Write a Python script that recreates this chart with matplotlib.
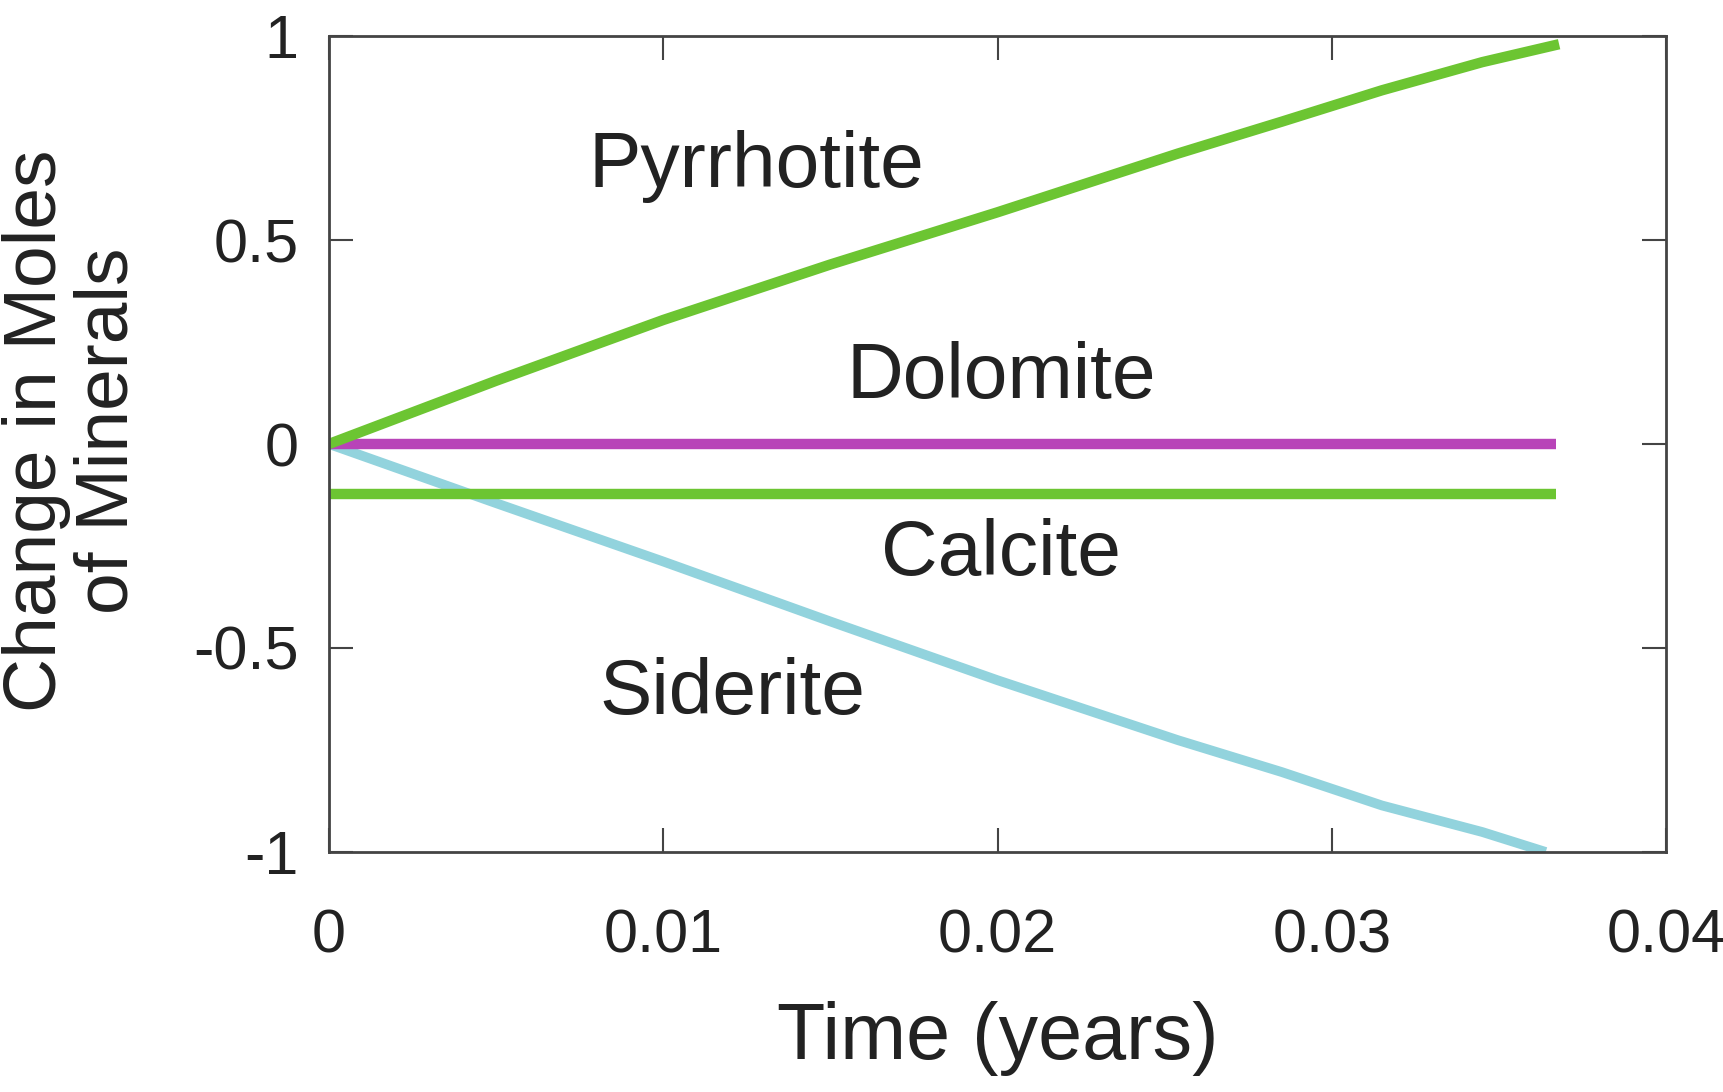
import numpy as np
import matplotlib.pyplot as plt

plt.rcParams['font.family'] = ['Liberation Sans', 'DejaVu Sans']

# values
t_pyr = [0, 0.005, 0.01, 0.015, 0.02, 0.0254, 0.0285, 0.0315, 0.0345, 0.0368]
pyrrhotite = [0, 0.155, 0.304, 0.44, 0.568, 0.712, 0.790, 0.867, 0.936, 0.98]

t_sid = [0, 0.005, 0.01, 0.015, 0.02, 0.0254, 0.0285, 0.0315, 0.0345, 0.0364]
siderite = [0, -0.145, -0.288, -0.435, -0.579, -0.726, -0.804, -0.886, -0.951, -1.0]

t_flat = [0, 0.0367]
dolomite = [0, 0]
calcite = [-0.123, -0.123]

labels = ["Pyrrhotite", "Dolomite", "Calcite", "Siderite"]
label_x = [0.0128, 0.0201, 0.0201, 0.01207]
label_y = [0.68, 0.164, -0.27, -0.611]

green = '#6cc532'
magenta = '#b844b8'
cyan = '#92d3dd'
txt = '#222222'

fig = plt.figure(figsize=(17.24, 10.92), dpi=100)
ax = fig.add_axes([0.1908, 0.2198, 0.9664 - 0.1908, 0.967 - 0.2198])

ax.plot(t_sid, siderite, color=cyan, lw=7, solid_capstyle='butt')
ax.plot(t_flat, calcite, color=green, lw=7.5, solid_capstyle='butt')
ax.plot(t_flat, dolomite, color=magenta, lw=7.5, solid_capstyle='butt')
ax.plot(t_pyr, pyrrhotite, color=green, lw=7.5, solid_capstyle='butt')

for name, x, y in zip(labels, label_x, label_y):
    ax.text(x, y, name, fontsize=56.5, color=txt, ha='center', va='center')

ax.set_xlim(0, 0.04)
ax.set_ylim(-1, 1)
ax.set_xticks([0, 0.01, 0.02, 0.03, 0.04])
ax.set_xticklabels(['0', '0.01', '0.02', '0.03', '0.04'])
ax.set_yticks([-1, -0.5, 0, 0.5, 1])
ax.set_yticklabels(['-1', '-0.5', '0', '0.5', '1'])

ax.tick_params(direction='in', length=17, width=1.5, colors='#444444',
               labelcolor=txt, labelsize=44, top=True, right=True)
ax.tick_params(axis='x', pad=41)
ax.tick_params(axis='y', pad=22)
for s in ax.spines.values():
    s.set_linewidth(2)
    s.set_color('#444444')

ax.set_xlabel("Time (years)", fontsize=57, color=txt, labelpad=25)
fig.text(72 / 1724, 1 - 431 / 1092, "Change in Moles\nof Minerals", fontsize=54,
         color=txt, rotation=90, ha='center', va='center', multialignment='center',
         linespacing=1.05)

fig.savefig('out.png', dpi=100)
